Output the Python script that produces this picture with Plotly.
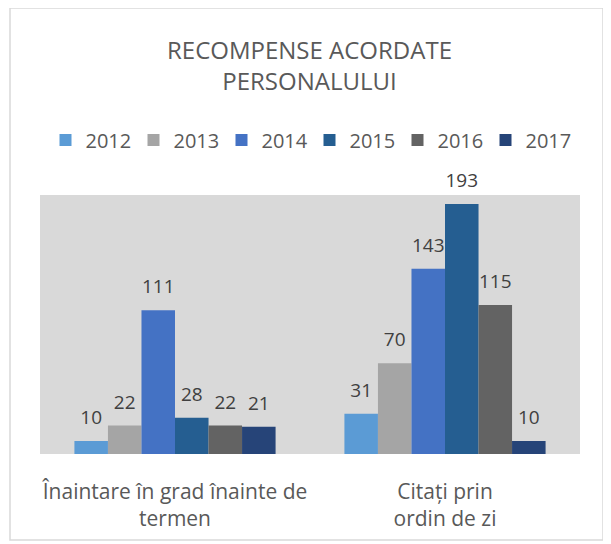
import plotly.graph_objects as go

# chart data
categories = ["Înaintare în grad înainte de<br>termen", "Citați prin<br>ordin de zi"]
years = ["2012", "2013", "2014", "2015", "2016", "2017"]
values = {
    "2012": [10, 31],
    "2013": [22, 70],
    "2014": [111, 143],
    "2015": [28, 193],
    "2016": [22, 115],
    "2017": [21, 10],
}
colors = {
    "2012": "#5B9BD5",
    "2013": "#A5A5A5",
    "2014": "#4472C4",
    "2015": "#255E91",
    "2016": "#636363",
    "2017": "#264478",
}

fig = go.Figure()
for y in years:
    fig.add_trace(go.Bar(
        x=categories,
        y=values[y],
        name=y,
        offsetgroup=y,
        marker=dict(color=colors[y], line=dict(width=0)),
    ))

# data labels as grouped text traces, so they sit a bit higher above the bars
for y in years:
    fig.add_trace(go.Scatter(
        x=categories,
        y=values[y],
        offsetgroup=y,
        mode="markers+text",
        text=values[y],
        textposition="top center",
        textfont=dict(color="#404040", size=19),
        marker=dict(size=18, color="rgba(0,0,0,0)"),
        showlegend=False,
        hoverinfo="skip",
        cliponaxis=False,
    ))

# page has an 8px body margin, so the figure is sized 603x536
W, H = 603, 536
fig.update_layout(
    width=W, height=H,
    margin=dict(l=32, r=31, t=187, b=90),
    barmode="group",
    bargap=0.255,
    bargroupgap=0,
    scattermode="group",
    scattergap=0.255,
    plot_bgcolor="#D9D9D9",
    paper_bgcolor="white",
    font=dict(family="Open Sans, sans-serif", color="#595959", size=19),
    title=dict(
        text="RECOMPENSE ACORDATE<br>PERSONALULUI",
        x=0.5, xanchor="center",
        y=1 - 51 / H, yanchor="middle", yref="container",
        font=dict(size=24, color="#595959"),
    ),
    legend=dict(
        orientation="h",
        xref="container", yref="container",
        x=0.5, xanchor="center",
        y=1 - 132 / H, yanchor="middle",
        font=dict(size=20, color="#595959"),
        itemwidth=30,
        entrywidth=43,
        bgcolor="rgba(0,0,0,0)",
        traceorder="normal",
    ),
    xaxis=dict(
        showgrid=False, showline=False, zeroline=False,
        tickfont=dict(size=21, color="#595959"),
        ticklabelstandoff=23,
    ),
    yaxis=dict(
        range=[0, 200], visible=False, showgrid=False,
    ),
    showlegend=True,
)

# outer chart border
fig.add_shape(
    type="rect", xref="paper", yref="paper",
    x0=(2 - 32) / 540, x1=(595 - 32) / 540,
    y0=(446 - 532) / 259, y1=(446 - 0) / 259,
    line=dict(color="#D9D9D9", width=1.5),
    fillcolor="rgba(0,0,0,0)",
    layer="below",
)

fig.write_html("out.html")
